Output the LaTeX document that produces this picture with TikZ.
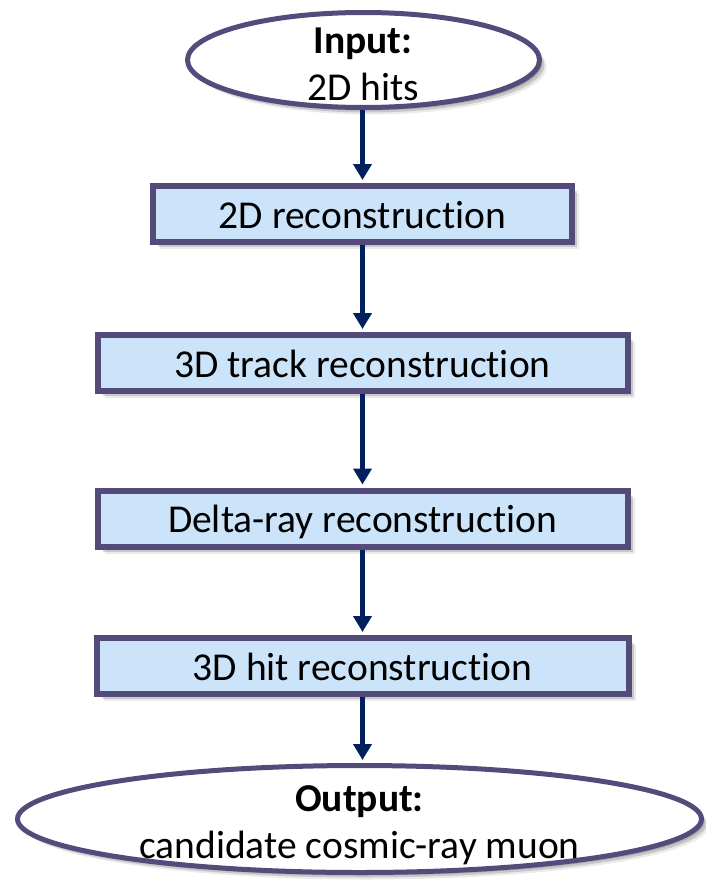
\documentclass[tikz,border=0pt]{standalone}
\usepackage{fontspec}
\setmainfont[Ligatures=NoCommon]{Carlito}
\usetikzlibrary{arrows.meta,positioning,shapes.geometric,shadows}

\definecolor{framecol}{RGB}{84,75,122}
\definecolor{boxfill}{RGB}{204,228,250}
\definecolor{arrowcol}{RGB}{0,32,96}

\begin{document}
\begin{tikzpicture}[
		x=1pt, y=-1pt,
		font=\fontsize{39.5}{47}\selectfont,
		arrow/.style={draw=arrowcol, line width=5pt, -{Triangle[length=16pt, width=18pt]}, shorten >=3pt},
		% soft shadow from a few stacked offsets
		shade/.style={
			drop shadow={shadow xshift=3pt, shadow yshift=-3pt, opacity=0.15, fill=black},
			drop shadow={shadow xshift=5pt, shadow yshift=-5pt, opacity=0.15, fill=black},
			drop shadow={shadow xshift=7pt, shadow yshift=-7pt, opacity=0.08, fill=black}},
		block/.style={draw=framecol, fill=boxfill, line width=6pt, minimum height=56pt, inner sep=0pt, text height=37pt, text depth=9pt, shade},
		terminal/.style={ellipse, draw=framecol, fill=white, line width=5pt, inner sep=0pt, shade},
		termtext/.style={align=center, inner sep=0pt},
	]
		\useasboundingbox (0,0) rectangle (706,881);

		% start and end of the chain
		\node (input) [terminal, minimum width=352pt, minimum height=95pt] at (363.5,60) {};
		\node (input text) [termtext] at (363,64) {\textbf{Input:}\\2D hits};
		\node (output) [terminal, minimum width=684pt, minimum height=107pt] at (359.5,819) {};
		\node (output text) [termtext] at (359.5,825) {\textbf{Output:}\\candidate cosmic-ray muon};

		% reconstruction steps
		\node (rec2d) [block, minimum width=419pt] at (362.5,214) {2D reconstruction};
		\node (track3d) [block, minimum width=530pt] at (362.5,363) {3D track reconstruction};
		\node (delta) [block, minimum width=530pt] at (362.5,518.5) {Delta-ray reconstruction};
		\node (hit3d) [block, minimum width=532pt] at (362.5,666) {3D hit reconstruction};

		\draw[arrow] (input.south -| rec2d) -- (rec2d.north);
		\draw[arrow] (rec2d) -- (track3d);
		\draw[arrow] (track3d) -- (delta);
		\draw[arrow] (delta) -- (hit3d);
		\draw[arrow] (hit3d.south) -- (hit3d.south |- output.north);
	\end{tikzpicture}
\end{document}
